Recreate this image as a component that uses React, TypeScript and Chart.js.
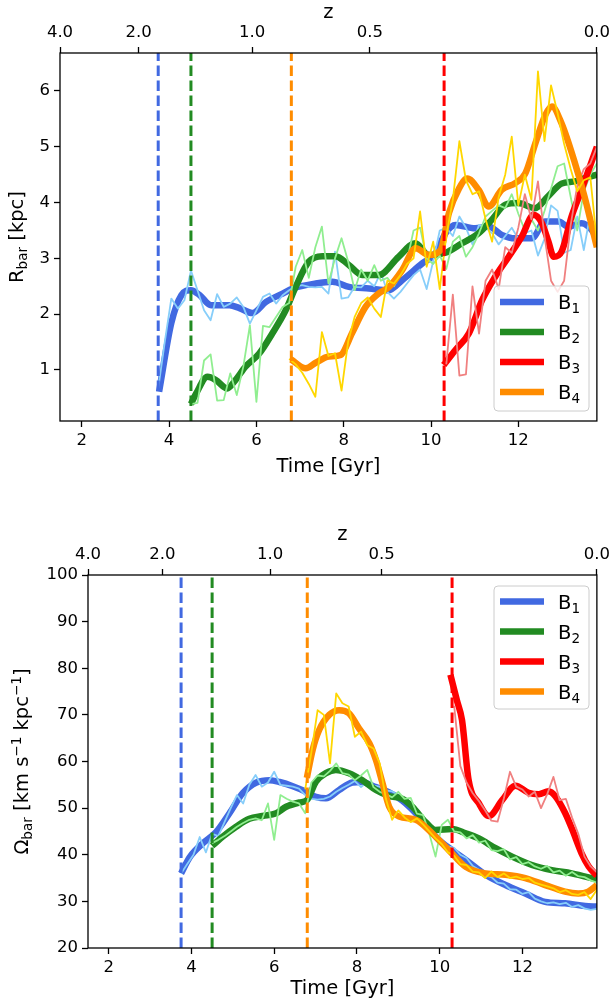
import React, { useEffect, useRef } from "react";
import { Chart, registerables } from "chart.js";
Chart.register(...registerables);

const FONT = '"DejaVu Sans", "Liberation Sans", sans-serif';

// ---------------- data ----------------
const X_MIN = 1.5;
const X_MAX = 13.8;
const X_TICKS = [2, 4, 6, 8, 10, 12];
const Z_TIMES = [1.5, 3.3, 5.9, 8.6, 13.8];
const Z_LABELS = ["4.0", "2.0", "1.0", "0.5", "0.0"];

const BAR_LABELS = ["1", "2", "3", "4"];
const MAIN_COLORS = ["#4169E1", "#228B22", "#FF0000", "#FF8C00"];
const RAW_COLORS = ["#87CEFA", "#90EE90", "#F08080", "#FFD700"];
const FORMATION = [3.75, 4.5, 10.3, 6.8];
const START_IDX = [0, 5, 44, 20];

// raw sampling times [Gyr]
const TIME = [3.75, 3.9, 4.05, 4.2, 4.35, 4.5, 4.65, 4.8, 4.95, 5.1, 5.25, 5.4, 5.55, 5.7, 5.85, 6.0, 6.15, 6.3, 6.45, 6.6,
  6.75, 6.9, 7.05, 7.2, 7.35, 7.5, 7.65, 7.8, 7.95, 8.1, 8.25, 8.4, 8.55, 8.7, 8.85, 9.0, 9.15, 9.3, 9.45, 9.6,
  9.75, 9.9, 10.05, 10.2, 10.35, 10.5, 10.65, 10.8, 10.95, 11.1, 11.25, 11.4, 11.55, 11.7, 11.85, 12.0, 12.15, 12.3, 12.45, 12.6,
  12.75, 12.9, 13.05, 13.2, 13.35, 13.5, 13.65, 13.8];

// ---- R_bar [kpc] raw ----
const R_B1_RAW = [0.67, 1.5, 2.28, 2.1, 2.25, 2.78, 2.43, 2.07, 1.89, 2.36, 2.13, 2.19, 2.3, 2.13, 1.83, 2.07, 2.31, 2.37, 2.19, 2.34,
  2.43, 2.5, 2.52, 2.49, 2.48, 2.49, 2.37, 3.12, 2.28, 2.3, 2.49, 2.48, 2.6, 2.5, 2.75, 2.4, 2.28, 2.4, 2.55, 2.7,
  2.8, 2.45, 2.95, 3.5, 3.55, 3.4, 3.75, 3.55, 3.25, 3.6, 3.55, 3.45, 3.25, 3.4, 3.55, 3.35, 3.45, 3.5, 3.05, 3.35,
  3.95, 3.85, 3.1, 3.15, 3.75, 3.15, 3.8, 3.3];
const R_B2_RAW = [0.39, 0.41, 1.17, 1.28, 0.45, 0.46, 0.94, 0.55, 1.06, 1.8, 0.43, 1.79, 1.77, 1.95, 2.13,
  2.2, 2.85, 3.15, 2.65, 3.2, 3.57, 2.55, 3.0, 3.36, 2.95, 2.43, 2.8, 2.6, 2.88, 2.6, 2.65, 2.5, 2.7, 2.95, 3.5,
  3.55, 3.0, 2.9, 3.05, 2.81, 3.3, 3.4, 3.03, 3.2, 3.45, 3.75, 3.85, 3.95, 3.9, 4.15, 3.8, 3.5, 3.7, 3.5, 3.85,
  4.25, 4.65, 4.7, 4.1, 3.5, 4.2, 4.5, 4.7];
const R_B3_RAW = [1.1, 2.35, 0.9, 0.92, 2.5, 1.65, 2.6, 2.8, 2.45, 3.2, 3.1, 3.55, 4.15, 3.7, 4.38, 3.4,
  2.6, 2.4, 2.6, 3.6, 4.3, 4.6, 4.7, 5.0];
const R_B4_RAW = [1.2, 1.1, 0.95, 0.75, 0.52, 1.68, 1.25, 1.3, 0.63, 1.5, 1.95, 2.2, 2.3, 2.1, 1.95, 2.6, 2.55, 2.7, 2.9, 3.0,
  3.84, 2.85, 3.3, 2.45, 3.4, 4.05, 5.1, 4.4, 4.15, 4.2, 3.7, 3.3, 4.1, 4.5, 5.18, 3.95, 4.5, 4.05, 6.35, 5.1,
  6.1, 5.6, 5.05, 4.6, 4.2, 4.4, 4.45, 3.3];

// ---- R_bar smoothed ----
const R_B1_SM_T = [3.77, 4.05, 4.28, 4.5, 4.7, 4.96, 5.38, 5.61, 5.91, 6.22, 6.6, 6.83, 7.36, 7.74, 8.12, 8.58, 9.03, 9.34, 9.8, 10.1,
  10.33, 10.56, 11.01, 11.32, 11.62, 11.93, 12.31, 12.61, 12.92, 13.14, 13.45, 13.68, 13.8];
const R_B1_SM = [0.61, 1.84, 2.34, 2.43, 2.34, 2.16, 2.16, 2.11, 2.02, 2.22, 2.37, 2.46, 2.55, 2.58, 2.49, 2.46, 2.43, 2.61, 2.91, 3.09,
  3.45, 3.6, 3.54, 3.57, 3.42, 3.36, 3.36, 3.66, 3.66, 3.57, 3.63, 3.51, 3.35];
const R_B2_SM_T = [4.5, 4.62, 4.88, 5.07, 5.33, 5.52, 5.75, 6.06, 6.36, 6.67, 6.9, 7.2, 7.51, 7.81, 8.12, 8.42, 8.8, 9.26, 9.64, 9.95,
  10.33, 10.71, 11.09, 11.39, 11.7, 12.0, 12.38, 12.68, 12.99, 13.3, 13.52, 13.8];
const R_B2_SM = [0.39, 0.58, 0.88, 0.82, 0.67, 0.82, 1.06, 1.29, 1.65, 2.07, 2.49, 2.94, 3.04, 3.04, 2.88, 2.7, 2.7, 3.03, 3.27, 3.06,
  3.1, 3.27, 3.45, 3.69, 3.96, 3.99, 3.9, 4.11, 4.34, 4.38, 4.44, 4.5];
const R_B3_SM_T = [10.29, 10.56, 10.87, 11.17, 11.47, 11.78, 12.08, 12.35, 12.54, 12.69, 12.81, 12.99, 13.22, 13.45, 13.8];
const R_B3_SM = [1.09, 1.36, 1.66, 2.25, 2.67, 3.03, 3.39, 3.78, 3.63, 3.3, 3.03, 3.12, 3.75, 4.23, 5.0];
const R_B4_SM_T = [6.79, 7.13, 7.36, 7.66, 7.93, 8.19, 8.5, 8.8, 9.04, 9.34, 9.65, 9.95, 10.22, 10.41, 10.64, 10.83, 11.09, 11.32, 11.62, 11.93,
  12.16, 12.39, 12.62, 12.77, 12.99, 13.3, 13.52, 13.8];
const R_B4_SM = [1.19, 1.03, 1.13, 1.24, 1.27, 1.66, 2.13, 2.37, 2.49, 2.79, 3.18, 3.06, 3.15, 3.81, 4.25, 4.43, 4.23, 3.93, 4.23, 4.35,
  4.52, 5.06, 5.57, 5.72, 5.42, 4.7, 4.1, 3.2];

// ---- Omega_bar [km/s/kpc] raw ----
const O_B1_RAW = [36.0, 38.0, 40.0, 43.8, 40.5, 44.5, 44.0, 47.0, 50.0, 52.8, 51.0, 55.0, 57.1, 54.6, 55.5, 57.8, 55.0, 54.8, 54.6, 54.2,
  52.8, 52.0, 51.8, 52.0, 52.5, 53.5, 54.3, 55.0, 55.8, 54.5, 55.6, 54.8, 54.6, 53.8, 53.6, 52.6, 51.5, 50.5, 48.8, 47.0,
  45.5, 44.0, 42.8, 41.8, 41.5, 40.0, 39.3, 37.6, 36.8, 35.6, 35.2, 34.0, 33.8, 32.6, 32.5, 31.6, 32.0, 30.6, 30.0, 29.6,
  29.8, 29.4, 29.7, 28.8, 29.2, 28.5, 28.2, 28.4];
const O_B2_RAW = [42.5, 43.2, 44.0, 45.0, 46.0, 46.8, 47.5, 47.8, 47.4, 51.0, 43.2, 52.8, 52.0, 51.4, 51.0,
  48.9, 55.5, 57.0, 56.8, 58.0, 59.6, 57.5, 57.2, 56.0, 57.0, 58.2, 54.5, 53.5, 53.0, 52.3, 53.5, 52.0, 52.2, 48.8, 48.5,
  44.5, 39.6, 46.4, 47.5, 45.0, 44.8, 43.5, 44.2, 42.6, 43.0, 41.0, 40.8, 41.2, 39.0, 39.5, 38.0, 38.4, 37.5, 37.0, 37.6,
  36.2, 36.6, 35.5, 36.3, 35.4, 35.2, 34.5, 34.0];
const O_B3_RAW = [72.0, 59.0, 55.5, 53.2, 51.5, 49.5, 47.3, 47.1, 52.0, 57.8, 54.6, 54.0, 52.5, 53.5, 50.0, 53.0,
  56.7, 51.7, 52.0, 48.0, 44.5, 39.6, 37.5, 36.2];
const O_B4_RAW = [54.0, 62.0, 71.0, 70.0, 59.6, 74.6, 72.5, 71.8, 65.3, 66.4, 63.5, 62.8, 59.6, 52.0, 47.5, 49.5, 48.0, 47.0, 47.8, 46.5,
  45.0, 43.5, 42.3, 40.5, 39.8, 38.0, 37.8, 36.4, 36.2, 35.0, 36.4, 35.2, 36.0, 35.0, 35.3, 34.8, 35.0, 34.0, 33.6, 33.2,
  32.8, 32.0, 32.4, 31.6, 31.4, 32.0, 30.5, 32.5];

// ---- Omega_bar smoothed ----
const O_B1_SM_T = [3.75, 3.96, 4.28, 4.6, 4.92, 5.24, 5.57, 5.89, 6.13, 6.45, 6.77, 7.01, 7.25, 7.57, 7.89, 8.1, 8.46, 8.78, 9.1, 9.5,
  9.98, 10.3, 10.63, 11.11, 11.59, 12.07, 12.55, 13.03, 13.52, 13.8];
const O_B1_SM = [36.0, 39.5, 42.5, 44.9, 48.9, 53.2, 55.5, 56.0, 55.6, 54.7, 53.5, 52.4, 52.1, 53.9, 55.5, 55.6, 54.5, 53.4, 51.6, 48.2,
  43.2, 41.0, 38.9, 35.7, 33.5, 31.7, 29.9, 29.6, 29.0, 28.9];
const O_B2_SM_T = [4.5, 4.76, 5.08, 5.4, 5.72, 6.05, 6.29, 6.61, 6.79, 7.01, 7.25, 7.49, 7.81, 8.13, 8.46, 8.78, 9.1, 9.34, 9.66, 9.9,
  10.3, 10.63, 10.95, 11.35, 11.75, 12.23, 12.71, 13.19, 13.8];
const O_B2_SM = [41.9, 43.9, 46.0, 47.7, 48.3, 48.9, 50.3, 51.2, 51.7, 55.7, 57.5, 58.2, 57.5, 56.0, 53.9, 52.6, 52.0, 50.3, 47.0, 45.3,
  45.5, 44.6, 43.5, 41.4, 39.6, 37.8, 36.7, 36.0, 34.7];
const O_B3_SM_T = [10.26, 10.42, 10.54, 10.7, 10.95, 11.19, 11.51, 11.83, 12.15, 12.4, 12.63, 12.8, 13.03, 13.2, 13.43, 13.6, 13.8];
const O_B3_SM = [78.6, 73.0, 68.9, 56.0, 51.0, 48.3, 51.7, 54.8, 53.3, 53.0, 53.6, 52.5, 49.0, 45.5, 40.3, 37.5, 35.5];
const O_B4_SM_T = [6.79, 6.93, 7.09, 7.33, 7.57, 7.81, 8.05, 8.3, 8.46, 8.62, 8.78, 9.02, 9.42, 9.82, 10.22, 10.63, 11.11, 11.59, 12.07, 12.55,
  13.03, 13.35, 13.59, 13.8];
const O_B4_SM = [56.5, 62.5, 66.8, 70.0, 71.0, 70.3, 67.1, 63.9, 60.3, 55.3, 50.3, 48.2, 47.5, 44.6, 41.0, 37.4, 36.0, 35.7, 35.0, 33.5,
  32.1, 31.7, 32.1, 33.5];

const R_TICKS = [1, 2, 3, 4, 5, 6];
const O_TICKS = [20, 30, 40, 50, 60, 70, 80, 90, 100];

// ---------------- helpers ----------------
type Part = { t: string; s?: number; dy?: number };

function drawRich(ctx: CanvasRenderingContext2D, parts: Part[], x: number, y: number, align: "center" | "left") {
  const widths: number[] = [];
  let total = 0;
  for (const p of parts) {
    ctx.font = `${p.s ?? 19.5}px ${FONT}`;
    const w = ctx.measureText(p.t).width;
    widths.push(w);
    total += w;
  }
  let cx = align === "center" ? x - total / 2 : x;
  ctx.textAlign = "left";
  ctx.textBaseline = "alphabetic";
  parts.forEach((p, i) => {
    ctx.font = `${p.s ?? 19.5}px ${FONT}`;
    ctx.fillText(p.t, cx, y + (p.dy ?? 0));
    cx += widths[i];
  });
}

type PanelCfg = {
  yMin: number;
  yMax: number;
  yTicks: number[];
  raw: number[][];
  smT: number[][];
  smV: number[][];
  leftW: number;
  topH: number;
  bottomH: number;
  zBase: number;
  xTitleBase: number;
  yTitleBase: number;
  yTitle: Part[];
  legend: { x: number; y: number; w: number; h: number; rows: number[] };
};

function buildDatasets(p: PanelCfg) {
  const seq: any[] = [];
  for (let i = 0; i < 4; i++) {
    seq.push({
      data: p.smT[i].map((t, k) => ({ x: t, y: p.smV[i][k] })),
      borderColor: MAIN_COLORS[i],
      borderWidth: 6.5,
      pointRadius: 0,
      cubicInterpolationMode: "monotone",
      borderJoinStyle: "round",
      borderCapStyle: "butt",
      fill: false,
    });
    seq.push({
      data: p.raw[i].map((v, k) => ({ x: TIME[START_IDX[i] + k], y: v })),
      borderColor: RAW_COLORS[i],
      borderWidth: 1.8,
      pointRadius: 0,
      tension: 0,
      borderJoinStyle: "round",
      fill: false,
    });
  }
  for (let i = 0; i < 4; i++) {
    seq.push({
      data: [
        { x: FORMATION[i], y: p.yMin },
        { x: FORMATION[i], y: p.yMax },
      ],
      borderColor: MAIN_COLORS[i],
      borderWidth: 3,
      borderDash: [10.5, 4.5],
      pointRadius: 0,
      fill: false,
    });
  }
  const n = seq.length;
  seq.forEach((d, k) => (d.order = n - k));
  return seq;
}

function makeConfig(p: PanelCfg): any {
  const tickFont = { family: FONT, size: 16.5 };
  const grid = { display: true, drawOnChartArea: false, drawTicks: true, tickLength: 6, tickWidth: 1.3, tickColor: "#000" };
  const ticksBase = { color: "#000", font: tickFont, padding: 4, autoSkip: false, maxRotation: 0, minRotation: 0 };
  const decor = {
    id: "decor",
    afterDraw(chart: any) {
      const ctx: CanvasRenderingContext2D = chart.ctx;
      const a = chart.chartArea;
      ctx.save();
      // frame
      ctx.strokeStyle = "#000";
      ctx.lineWidth = 1.3;
      ctx.strokeRect(a.left, a.top, a.right - a.left, a.bottom - a.top);
      ctx.fillStyle = "#000";
      const cx = (a.left + a.right) / 2;
      drawRich(ctx, [{ t: "z" }], cx, p.zBase, "center");
      drawRich(ctx, [{ t: "Time [Gyr]" }], cx, p.xTitleBase, "center");
      ctx.save();
      ctx.translate(p.yTitleBase, (a.top + a.bottom) / 2);
      ctx.rotate(-Math.PI / 2);
      drawRich(ctx, p.yTitle, 0, 0, "center");
      ctx.restore();
      // legend
      const L = p.legend;
      const r = 4;
      ctx.beginPath();
      ctx.moveTo(L.x + r, L.y);
      ctx.arcTo(L.x + L.w, L.y, L.x + L.w, L.y + L.h, r);
      ctx.arcTo(L.x + L.w, L.y + L.h, L.x, L.y + L.h, r);
      ctx.arcTo(L.x, L.y + L.h, L.x, L.y, r);
      ctx.arcTo(L.x, L.y, L.x + L.w, L.y, r);
      ctx.closePath();
      ctx.fillStyle = "rgba(255,255,255,0.8)";
      ctx.fill();
      ctx.strokeStyle = "#cccccc";
      ctx.lineWidth = 1;
      ctx.stroke();
      L.rows.forEach((ry, i) => {
        ctx.beginPath();
        ctx.strokeStyle = MAIN_COLORS[i];
        ctx.lineWidth = 6.5;
        ctx.lineCap = "butt";
        ctx.moveTo(L.x + 6, ry);
        ctx.lineTo(L.x + 50, ry);
        ctx.stroke();
        ctx.fillStyle = "#000";
        drawRich(ctx, [{ t: "B" }, { t: BAR_LABELS[i], s: 13.6, dy: 4 }], L.x + 64, ry + 7, "left");
      });
      ctx.restore();
    },
  };
  return {
    type: "line",
    data: { datasets: buildDatasets(p) },
    options: {
      animation: false,
      responsive: false,
      maintainAspectRatio: false,
      devicePixelRatio: 1,
      parsing: true,
      layout: { padding: { left: 0, right: 15, top: 0, bottom: 0 } },
      plugins: { legend: { display: false }, tooltip: { enabled: false }, title: { display: false } },
      elements: { line: { fill: false } },
      scales: {
        x: {
          type: "linear",
          position: "bottom",
          min: X_MIN,
          max: X_MAX,
          grid,
          border: { display: false },
          ticks: { ...ticksBase, callback: (v: number) => String(v) },
          afterBuildTicks: (s: any) => {
            s.ticks = X_TICKS.map((v) => ({ value: v }));
          },
          afterFit: (s: any) => {
            s.height = p.bottomH;
          },
        },
        xTop: {
          type: "linear",
          position: "top",
          min: X_MIN,
          max: X_MAX,
          grid,
          border: { display: false },
          ticks: { ...ticksBase, callback: (_v: number, i: number) => Z_LABELS[i] },
          afterBuildTicks: (s: any) => {
            s.ticks = Z_TIMES.map((v) => ({ value: v }));
          },
          afterFit: (s: any) => {
            s.height = p.topH;
          },
        },
        y: {
          type: "linear",
          position: "left",
          min: p.yMin,
          max: p.yMax,
          grid,
          border: { display: false },
          ticks: { ...ticksBase, callback: (v: number) => String(v) },
          afterBuildTicks: (s: any) => {
            s.ticks = p.yTicks.map((v) => ({ value: v }));
          },
          afterFit: (s: any) => {
            s.width = p.leftW;
          },
        },
      },
    },
    plugins: [decor],
  };
}

const TOP_PANEL: PanelCfg = {
  yMin: 0.086,
  yMax: 6.68,
  yTicks: R_TICKS,
  raw: [R_B1_RAW, R_B2_RAW, R_B3_RAW, R_B4_RAW],
  smT: [R_B1_SM_T, R_B2_SM_T, R_B3_SM_T, R_B4_SM_T],
  smV: [R_B1_SM, R_B2_SM, R_B3_SM, R_B4_SM],
  leftW: 60,
  topH: 53,
  bottomH: 82,
  zBase: 18,
  xTitleBase: 472,
  yTitleBase: 23,
  yTitle: [{ t: "R" }, { t: "bar", s: 13.6, dy: 4 }, { t: " [kpc]" }],
  legend: { x: 494, y: 286, w: 95, h: 125, rows: [302, 332, 362, 392] },
};

const BOTTOM_PANEL: PanelCfg = {
  yMin: 20,
  yMax: 100,
  yTicks: O_TICKS,
  raw: [O_B1_RAW, O_B2_RAW, O_B3_RAW, O_B4_RAW],
  smT: [O_B1_SM_T, O_B2_SM_T, O_B3_SM_T, O_B4_SM_T],
  smV: [O_B1_SM, O_B2_SM, O_B3_SM, O_B4_SM],
  leftW: 88,
  topH: 72,
  bottomH: 58,
  zBase: 37,
  xTitleBase: 491,
  yTitleBase: 28,
  yTitle: [
    { t: "Ω" },
    { t: "bar", s: 13.6, dy: 4 },
    { t: " [km s" },
    { t: "\u22121", s: 13.6, dy: -7.5 },
    { t: " kpc" },
    { t: "\u22121", s: 13.6, dy: -7.5 },
    { t: "]" },
  ],
  legend: { x: 494, y: 83, w: 95, h: 123, rows: [98.5, 128.5, 158.5, 188.5] },
};

function Panel({ cfg, top }: { cfg: PanelCfg; top: number }) {
  const ref = useRef<HTMLCanvasElement | null>(null);
  useEffect(() => {
    if (!ref.current) return;
    const chart = new Chart(ref.current, makeConfig(cfg));
    return () => chart.destroy();
  }, [cfg]);
  return (
    <canvas
      ref={ref}
      width={614}
      height={503}
      style={{ position: "absolute", left: 0, top, width: 614, height: 503, display: "block" }}
    />
  );
}

export default function App() {
  return (
    <div style={{ position: "absolute", left: 0, top: 0, width: 614, height: 1006, background: "#fff" }}>
      <Panel cfg={TOP_PANEL} top={0} />
      <Panel cfg={BOTTOM_PANEL} top={503} />
    </div>
  );
}
